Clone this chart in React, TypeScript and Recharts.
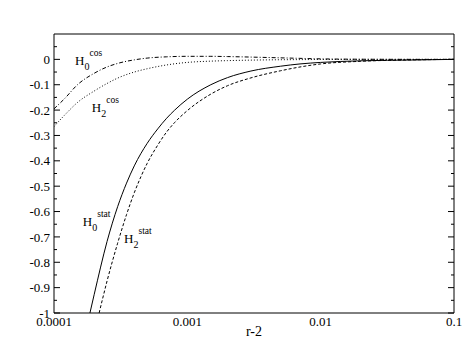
import React from 'react';
import { LineChart, Line, XAxis, YAxis, ReferenceDot } from 'recharts';

// ---- data ----
const xsCos = [0.0001, 0.00012, 0.00015, 0.0002, 0.00025, 0.0003, 0.0004, 0.0005, 0.0007, 0.001, 0.0015, 0.002, 0.003, 0.005, 0.007, 0.01, 0.02, 0.05, 0.1];
const h0Cos = [-0.195, -0.155, -0.1, -0.055, -0.03, -0.016, -0.002, 0.005, 0.01, 0.012, 0.012, 0.011, 0.009, 0.006, 0.004, 0.002, 0.0005, 0, 0];
const h2Cos = [-0.265, -0.22, -0.17, -0.125, -0.095, -0.074, -0.05, -0.037, -0.022, -0.012, -0.007, -0.005, -0.003, -0.0015, -0.001, -0.0005, 0, 0, 0];

const xsH0Stat = [0.000186, 0.0002, 0.00025, 0.0003, 0.00035, 0.0004, 0.0005, 0.0006, 0.0007, 0.0008, 0.001, 0.0015, 0.002, 0.003, 0.005, 0.007, 0.01, 0.02, 0.05, 0.1];
const h0Stat = [-1, -0.928, -0.718, -0.581, -0.488, -0.42, -0.331, -0.274, -0.232, -0.201, -0.157, -0.1, -0.072, -0.046, -0.027, -0.018, -0.012, -0.0057, -0.0025, 0];

const xsH2Stat = [0.000218, 0.00025, 0.0003, 0.00035, 0.0004, 0.00045, 0.0005, 0.0006, 0.0007, 0.0008, 0.001, 0.0015, 0.002, 0.003, 0.005, 0.007, 0.01, 0.02, 0.05, 0.1];
const h2Stat = [-1, -0.874, -0.725, -0.612, -0.526, -0.461, -0.41, -0.338, -0.286, -0.25, -0.202, -0.137, -0.104, -0.073, -0.045, -0.03, -0.018, -0.0076, -0.002, 0];

const xTicksMajor = [0.0001, 0.001, 0.01, 0.1];
const xTicksMinor = [0.0002, 0.0003, 0.0004, 0.0005, 0.0006, 0.0007, 0.0008, 0.0009, 0.002, 0.003, 0.004, 0.005, 0.006, 0.007, 0.008, 0.009, 0.02, 0.03, 0.04, 0.05, 0.06, 0.07, 0.08, 0.09];
const yTicksMajor = [-1, -0.9, -0.8, -0.7, -0.6, -0.5, -0.4, -0.3, -0.2, -0.1, 0];
const yTicksMinor = [-0.95, -0.85, -0.75, -0.65, -0.55, -0.45, -0.35, -0.25, -0.15, -0.05, 0.05];

const curveLabels = [
  { sub: '0', sup: 'cos', x: 0.0001437, y: -0.022 },
  { sub: '2', sup: 'cos', x: 0.0001918, y: -0.206 },
  { sub: '0', sup: 'stat', x: 0.0001642, y: -0.656 },
  { sub: '2', sup: 'stat', x: 0.000335, y: -0.723 },
];

const xLabel = 'r-2';

const zip = (xs: number[], ys: number[]) => xs.map((x, i) => ({ x, y: ys[i] }));

const FONT = '"Liberation Serif", "Times New Roman", serif';
const XDOM: [number, number] = [0.0001, 0.1];
const YDOM: [number, number] = [-1, 0.1];
const TINY = 0.001;

const EmptyTick = () => <g />;

const XTick = (p: any) => (
  <text x={p.x} y={p.y} dy="0.71em" textAnchor="middle" fontFamily={FONT} fontSize={13} fill="#000">
    {String(p.payload.value)}
  </text>
);
const YTick = (p: any) => (
  <text x={p.x} y={p.y} dy="0.355em" textAnchor="end" fontFamily={FONT} fontSize={13} fill="#000">
    {String(p.payload.value)}
  </text>
);

const XLabel = (p: any) => {
  const vb = p.viewBox || {};
  return (
    <text x={vb.x + vb.width / 2} y={vb.y + vb.height - 21} textAnchor="middle" fontFamily={FONT} fontSize={14} fill="#000">
      {xLabel}
    </text>
  );
};

const makeLabelShape = (sub: string, sup: string) => (props: any) => {
  const { cx, cy } = props;
  return (
    <g fontFamily={FONT} fill="#000">
      <text x={cx} y={cy} fontSize={13} fontFamily={FONT}>H</text>
      <text x={cx + 9.5} y={cy + 5} fontSize={10} fontFamily={FONT}>{sub}</text>
      <text x={cx + 14.5} y={cy - 8.5} fontSize={9.5} fontFamily={FONT}>{sup}</text>
    </g>
  );
};

export default function App() {
  const tl = { stroke: '#000' };
  return (
    <div style={{ position: 'absolute', left: 0, top: 0, background: '#fff', fontFamily: FONT }}>
      <LineChart width={463} height={357} margin={{ top: 34, right: 9, bottom: 0, left: 0 }}>
        {/* inward tick marks */}
        <XAxis xAxisId="b1" type="number" scale="log" domain={XDOM} allowDataOverflow ticks={xTicksMajor} interval={0} orientation="bottom" mirror height={TINY} tick={EmptyTick} tickSize={6} axisLine={false} tickLine={tl} />
        <XAxis xAxisId="b2" type="number" scale="log" domain={XDOM} allowDataOverflow ticks={xTicksMinor} interval={0} orientation="bottom" mirror height={TINY} tick={EmptyTick} tickSize={3} axisLine={false} tickLine={tl} />
        <XAxis xAxisId="t1" type="number" scale="log" domain={XDOM} allowDataOverflow ticks={xTicksMajor} interval={0} orientation="top" mirror height={TINY} tick={EmptyTick} tickSize={6} axisLine={tl} tickLine={tl} />
        <XAxis xAxisId="t2" type="number" scale="log" domain={XDOM} allowDataOverflow ticks={xTicksMinor} interval={0} orientation="top" mirror height={TINY} tick={EmptyTick} tickSize={3} axisLine={false} tickLine={tl} />
        <YAxis yAxisId="l1" type="number" domain={YDOM} allowDataOverflow ticks={yTicksMajor} interval={0} orientation="left" mirror width={TINY} tick={EmptyTick} tickSize={6} axisLine={false} tickLine={tl} />
        <YAxis yAxisId="l2" type="number" domain={YDOM} allowDataOverflow ticks={yTicksMinor} interval={0} orientation="left" mirror width={TINY} tick={EmptyTick} tickSize={3} axisLine={false} tickLine={tl} />
        <YAxis yAxisId="r1" type="number" domain={YDOM} allowDataOverflow ticks={yTicksMajor} interval={0} orientation="right" mirror width={TINY} tick={EmptyTick} tickSize={6} axisLine={tl} tickLine={tl} />
        <YAxis yAxisId="r2" type="number" domain={YDOM} allowDataOverflow ticks={yTicksMinor} interval={0} orientation="right" mirror width={TINY} tick={EmptyTick} tickSize={3} axisLine={false} tickLine={tl} />

        {/* labelled axes */}
        <XAxis
          xAxisId="x"
          dataKey="x"
          type="number"
          scale="log"
          domain={XDOM}
          allowDataOverflow
          ticks={xTicksMajor}
          interval={0}
          height={44}
          tickLine={false}
          tickSize={0}
          tickMargin={4}
          axisLine={tl}
          tick={XTick}
          label={<XLabel />}
        />
        <YAxis
          yAxisId="y"
          type="number"
          domain={YDOM}
          allowDataOverflow
          ticks={yTicksMajor}
          interval={0}
          width={54}
          tickLine={false}
          tickSize={0}
          tickMargin={4}
          axisLine={tl}
          tick={YTick}
        />

        <Line xAxisId="x" yAxisId="y" data={zip(xsCos, h0Cos)} dataKey="y" type="monotone" stroke="#000" strokeWidth={1} strokeDasharray="4 2 1 2" dot={false} isAnimationActive={false} />
        <Line xAxisId="x" yAxisId="y" data={zip(xsCos, h2Cos)} dataKey="y" type="monotone" stroke="#000" strokeWidth={1} strokeDasharray="1 2" dot={false} isAnimationActive={false} />
        <Line xAxisId="x" yAxisId="y" data={zip(xsH0Stat, h0Stat)} dataKey="y" type="monotone" stroke="#000" strokeWidth={1} dot={false} isAnimationActive={false} />
        <Line xAxisId="x" yAxisId="y" data={zip(xsH2Stat, h2Stat)} dataKey="y" type="monotone" stroke="#000" strokeWidth={1} strokeDasharray="3 2" dot={false} isAnimationActive={false} />

        {curveLabels.map((l, i) => (
          <ReferenceDot key={i} xAxisId="x" yAxisId="y" x={l.x} y={l.y} r={0} shape={makeLabelShape(l.sub, l.sup)} />
        ))}
      </LineChart>
    </div>
  );
}
